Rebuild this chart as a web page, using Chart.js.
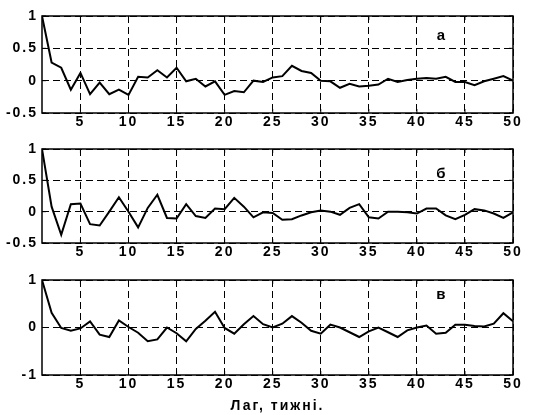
<!DOCTYPE html>
<html>
<head>
<meta charset="utf-8">
<script src="https://cdn.jsdelivr.net/npm/chart.js@4.4.1/dist/chart.umd.min.js"></script>
<style>
  body { margin: 0; background: #fff; }
  .panel { position: absolute; left: 0; }
</style>
</head>
<body>
<canvas id="p1" class="panel" width="534" height="130" style="top:0px"></canvas>
<canvas id="p2" class="panel" width="534" height="127" style="top:133px"></canvas>
<canvas id="p3" class="panel" width="534" height="151" style="top:264px"></canvas>
<script>
// лаги (тижні)
var lags = [1, 2, 3, 4, 5, 6, 7, 8, 9, 10, 11, 12, 13, 14, 15, 16, 17, 18, 19, 20,
            21, 22, 23, 24, 25, 26, 27, 28, 29, 30, 31, 32, 33, 34, 35, 36, 37, 38, 39, 40,
            41, 42, 43, 44, 45, 46, 47, 48, 49, 50];

// автокореляція, панель а
var acfA = [1.0, 0.28, 0.2, -0.14, 0.12, -0.21, -0.03, -0.21, -0.14, -0.22,
            0.06, 0.05, 0.16, 0.05, 0.2, -0.01, 0.03, -0.09, -0.01, -0.22,
            -0.16, -0.18, 0.0, -0.02, 0.05, 0.07, 0.23, 0.15, 0.12, 0.0,
            -0.01, -0.11, -0.05, -0.09, -0.08, -0.06, 0.03, -0.02, 0.01, 0.03,
            0.04, 0.03, 0.06, -0.02, -0.02, -0.07, -0.01, 0.03, 0.07, 0.0];

// панель б
var acfB = [1.0, 0.08, -0.37, 0.12, 0.13, -0.2, -0.22, 0.0, 0.23, 0.0,
            -0.25, 0.06, 0.27, -0.1, -0.11, 0.12, -0.07, -0.1, 0.05, 0.04,
            0.22, 0.08, -0.09, -0.01, -0.02, -0.13, -0.12, -0.06, -0.01, 0.02,
            0.0, -0.05, 0.06, 0.12, -0.09, -0.11, 0.0, 0.0, -0.01, -0.03,
            0.05, 0.05, -0.06, -0.12, -0.05, 0.04, 0.02, -0.03, -0.1, -0.01];

// панель в
var acfC = [1.0, 0.31, -0.01, -0.07, -0.02, 0.13, -0.15, -0.2, 0.15, 0.01,
            -0.11, -0.29, -0.25, 0.0, -0.12, -0.29, -0.03, 0.14, 0.33, -0.01,
            -0.13, 0.07, 0.24, 0.07, 0.0, 0.08, 0.24, 0.1, -0.07, -0.13,
            0.06, 0.0, -0.1, -0.2, -0.08, 0.0, -0.1, -0.2, -0.06, 0.0,
            0.04, -0.13, -0.11, 0.06, 0.06, 0.03, 0.02, 0.08, 0.3, 0.13];

var xTicks = [5, 10, 15, 20, 25, 30, 35, 40, 45, 50];
var yTicksAB = [-0.5, 0, 0.5, 1];
var yTicksC = [-1, 0, 1];
var panelLetters = ['а', 'б', 'в'];
var xTitle = 'Лаг, тижні.';

var FONT = { family: "'Liberation Sans', Arial, sans-serif", size: 14, weight: 'bold' };

// рамка як у matlab + буква панелі
var boxPlugin = {
    id: 'box',
    beforeDraw: function (chart) {
        chart.ctx.letterSpacing = '2px';
    },
    afterDraw: function (chart) {
        var ctx = chart.ctx;
        var a = chart.chartArea;
        var xs = chart.scales.x, ys = chart.scales.y;
        ctx.save();
        ctx.setLineDash([]);
        ctx.strokeStyle = '#000';
        ctx.lineWidth = 1.5;
        ctx.strokeRect(a.left, a.top, a.right - a.left, a.bottom - a.top);
        ctx.lineWidth = 1;
        ctx.beginPath();
        xs.ticks.forEach(function (t) {
            var px = xs.getPixelForValue(t.value);
            ctx.moveTo(px, a.top); ctx.lineTo(px, a.top + 4);
            ctx.moveTo(px, a.bottom); ctx.lineTo(px, a.bottom - 4);
        });
        ys.ticks.forEach(function (t) {
            var py = ys.getPixelForValue(t.value);
            ctx.moveTo(a.right, py); ctx.lineTo(a.right - 4, py);
            ctx.moveTo(a.left, py); ctx.lineTo(a.left + 4, py);
        });
        ctx.stroke();
        var opts = chart.options.plugins.box;
        ctx.letterSpacing = '0px';
        ctx.font = 'bold 15px ' + FONT.family;
        ctx.fillStyle = '#000';
        ctx.textAlign = 'center';
        ctx.textBaseline = 'middle';
        ctx.fillText(opts.letter, xs.getPixelForValue(opts.lx), ys.getPixelForValue(opts.ly));
        ctx.restore();
    }
};

function drawPanel(id, values, yTicks, yMin, yMax, letter, ly, axisHeight, withTitle) {
    var pts = lags.map(function (l, i) { return { x: l, y: values[i] }; });
    return new Chart(document.getElementById(id), {
        type: 'line',
        data: {
            datasets: [{
                data: pts,
                borderColor: '#000',
                borderWidth: 2,
                pointRadius: 0,
                tension: 0,
                fill: false
            }]
        },
        options: {
            responsive: false,
            animation: false,
            devicePixelRatio: 1,
            layout: { padding: { left: 0, right: 21, top: 16, bottom: 0 } },
            plugins: {
                legend: { display: false },
                tooltip: { enabled: false },
                box: { letter: letter, lx: 42.5, ly: ly }
            },
            scales: {
                x: {
                    type: 'linear',
                    min: 1,
                    max: 50,
                    afterBuildTicks: function (s) { s.ticks = xTicks.map(function (v) { return { value: v }; }); },
                    afterFit: function (s) { s.height = axisHeight; },
                    ticks: { color: '#000', font: FONT, padding: 1, maxRotation: 0, autoSkip: false,
                             callback: function (v) { return String(v); } },
                    grid: { color: '#000', lineWidth: 1, drawTicks: false },
                    border: { display: false, dash: [7, 4] },
                    title: { display: withTitle, text: xTitle, color: '#000', font: FONT, padding: { top: 4, bottom: 0 } }
                },
                y: {
                    min: yMin,
                    max: yMax,
                    afterBuildTicks: function (s) { s.ticks = yTicks.map(function (v) { return { value: v }; }); },
                    afterFit: function (s) { s.width = 42; },
                    ticks: { color: '#000', font: FONT, padding: 4, autoSkip: false,
                             callback: function (v) { return String(v); } },
                    grid: { color: '#000', lineWidth: 1, drawTicks: false },
                    border: { display: false, dash: [7, 4] }
                }
            }
        },
        plugins: [boxPlugin]
    });
}

drawPanel('p1', acfA, yTicksAB, -0.5, 1, panelLetters[0], 0.70, 17, false);
drawPanel('p2', acfB, yTicksAB, -0.5, 1, panelLetters[1], 0.61, 17, false);
drawPanel('p3', acfC, yTicksC, -1, 1, panelLetters[2], 0.68, 40, true);
</script>
</body>
</html>
